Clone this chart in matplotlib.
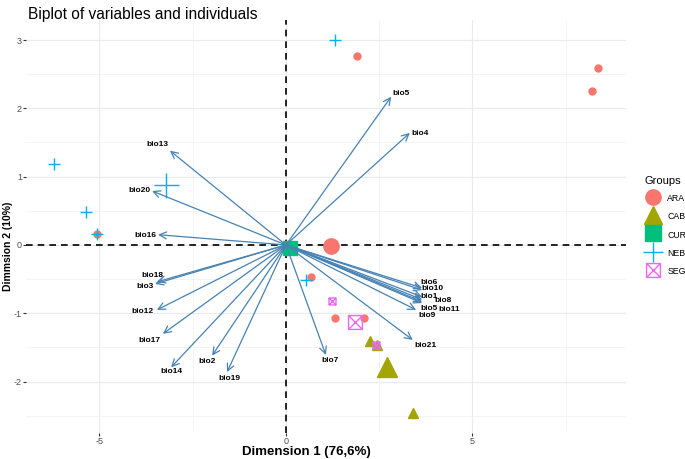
import matplotlib
matplotlib.use("Agg")
import matplotlib.pyplot as plt
from matplotlib.path import Path
from matplotlib.lines import Line2D

plt.rcParams["font.family"] = ["Liberation Sans", "DejaVu Sans"]
plt.rcParams["axes.unicode_minus"] = False

# individuals (Dim1, Dim2) per group
ara_x = [1.90, 8.36, 8.20, -5.07, 0.67, 1.31, 2.09]
ara_y = [2.77, 2.59, 2.25, 0.16, -0.47, -1.07, -1.07]
cab_x = [2.25, 2.44, 3.40]
cab_y = [-1.41, -1.46, -2.46]
cur_x = [0.05]
cur_y = [-0.02]
neb_x = [1.31, -6.22, -5.36, -5.07, 0.54]
neb_y = [3.00, 1.19, 0.48, 0.16, -0.51]
seg_x = [1.23, 2.41]
seg_y = [-0.82, -1.46]

# group centroids
groups = ["ARA", "CAB", "CUR", "NEB", "SEG"]
cent_x = [1.21, 2.71, 0.10, -3.22, 1.85]
cent_y = [-0.01, -1.79, -0.05, 0.88, -1.13]

# variable arrows
var_names = ["bio5", "bio4", "bio13", "bio20", "bio16", "bio18", "bio3", "bio12",
             "bio17", "bio14", "bio2", "bio19", "bio7", "bio21", "bio6", "bio10",
             "bio1", "bio8", "bio5", "bio11", "bio9"]
var_x = [2.82, 3.32, -3.11, -3.59, -3.43, -3.46, -3.51, -3.46,
         -3.30, -3.08, -1.98, -1.58, 1.07, 3.40, 3.65, 3.65,
         3.65, 3.65, 3.65, 3.65, 3.49]
var_y = [2.17, 1.64, 1.38, 0.79, 0.15, -0.54, -0.57, -0.95,
         -1.30, -1.79, -1.62, -1.86, -1.61, -1.39, -0.63, -0.66,
         -0.76, -0.80, -0.85, -0.83, -0.95]

# label offsets in pixels (text layout only)
lab_off = [(10, 3), (10, -1), (-13, 6), (-13, 0), (-13, -1), (-5, 6), (-10, -3),
           (-14, -2), (-13, -7), (0, -4), (-5, -6), (2, -6), (4, -6), (13, -6),
           (7, 6), (10, 2), (7, 0), (21, -1), (7, -5), (27, -8), (11, -6)]

colors = {"ARA": "#F8766D", "CAB": "#A3A500", "CUR": "#00BF7D",
          "NEB": "#00B0F6", "SEG": "#E76BF3"}

# square with an X inside (ggplot shape 7)
boxx = Path([(-1, -1), (1, -1), (1, 1), (-1, 1), (-1, -1), (-1, -1), (1, 1),
             (-1, 1), (1, -1)],
            [Path.MOVETO, Path.LINETO, Path.LINETO, Path.LINETO, Path.LINETO,
             Path.MOVETO, Path.LINETO, Path.MOVETO, Path.LINETO])
markers = {"ARA": "o", "CAB": "^", "CUR": "s", "NEB": "+", "SEG": boxx}

fig = plt.figure(figsize=(6.85, 4.59), dpi=100)
ax = fig.add_axes([0.038, 0.057, 0.876, 0.899])

ax.set_xlim(-6.97, 9.12)
ax.set_ylim(-2.75, 3.29)
ax.set_xticks([-5, 0, 5])
ax.set_yticks([-2, -1, 0, 1, 2, 3])
ax.set_xticks([-2.5, 2.5, 7.5], minor=True)
ax.set_yticks([-2.5, -1.5, -0.5, 0.5, 1.5, 2.5], minor=True)
ax.grid(which="major", color="#EBEBEB", lw=0.8)
ax.grid(which="minor", color="#F3F3F3", lw=0.6)
ax.set_axisbelow(True)
for s in ax.spines.values():
    s.set_visible(False)
ax.tick_params(which="major", length=2, width=0.8, color="#333333",
               labelsize=6.5, labelcolor="#4D4D4D", pad=1)
ax.tick_params(which="minor", length=0)

ax.axhline(0, color="black", lw=1.2, ls=(0, (4, 3)), zorder=1)
ax.axvline(0, color="black", lw=1.2, ls=(0, (4, 3)), zorder=1)


def draw_group(g, xs, ys, ms):
    m = markers[g]
    c = colors[g]
    if g in ("NEB", "SEG"):
        ax.plot(xs, ys, ls="none", marker=m, ms=ms, mec=c, mfc="none", mew=1.0, zorder=3)
    else:
        ax.plot(xs, ys, ls="none", marker=m, ms=ms, color=c, mec=c, zorder=3)


small = {"ARA": 5, "CAB": 7, "CUR": 5, "NEB": 9, "SEG": 5}
big = {"ARA": 11, "CAB": 14, "CUR": 10, "NEB": 18, "SEG": 10}
pts = {"ARA": (ara_x, ara_y), "CAB": (cab_x, cab_y), "CUR": (cur_x, cur_y),
       "NEB": (neb_x, neb_y), "SEG": (seg_x, seg_y)}
for g in groups:
    draw_group(g, pts[g][0], pts[g][1], small[g])
for g, cx, cy in zip(groups, cent_x, cent_y):
    draw_group(g, [cx], [cy], big[g])

for name, vx, vy, off in zip(var_names, var_x, var_y, lab_off):
    ax.annotate("", xy=(vx, vy), xytext=(0, 0),
                arrowprops=dict(arrowstyle="->,head_length=0.5,head_width=0.25",
                                color="#4682B4", lw=0.9, shrinkA=0, shrinkB=0),
                zorder=4)
    ax.annotate(name, xy=(vx, vy), xytext=off, textcoords="offset pixels",
                ha="center", va="center", fontsize=6, fontweight="bold", zorder=5)

ax.set_xlabel("Dimension 1 (76,6%)", fontsize=9.5, fontweight="bold")
ax.xaxis.set_label_coords(0.468, -0.031)
ax.set_ylabel("Dimmsion 2 (10%)", fontsize=7.5, fontweight="bold")
ax.yaxis.set_label_coords(-0.022, 0.453)

fig.text(0.041, 0.985, "Biplot of variables and individuals", fontsize=11.2,
         ha="left", va="top")

handles = []
for g in groups:
    m = markers[g]
    c = colors[g]
    if g in ("NEB", "SEG"):
        h = Line2D([], [], ls="none", marker=m, ms=10 if g == "SEG" else 15,
                   mec=c, mfc="none", mew=1.0)
    else:
        h = Line2D([], [], ls="none", marker=m, ms=11 if g != "CAB" else 13,
                   color=c, mec=c)
    handles.append(h)
leg = fig.legend(handles, groups, title="Groups", loc="upper left",
                 bbox_to_anchor=(0.936, 0.625), frameon=False, fontsize=6.3,
                 title_fontsize=8, handletextpad=0.6, labelspacing=0.85,
                 handleheight=1.5, handlelength=2.0, borderaxespad=0)
leg._legend_box.align = "left"

fig.savefig("out.png", dpi=100)
